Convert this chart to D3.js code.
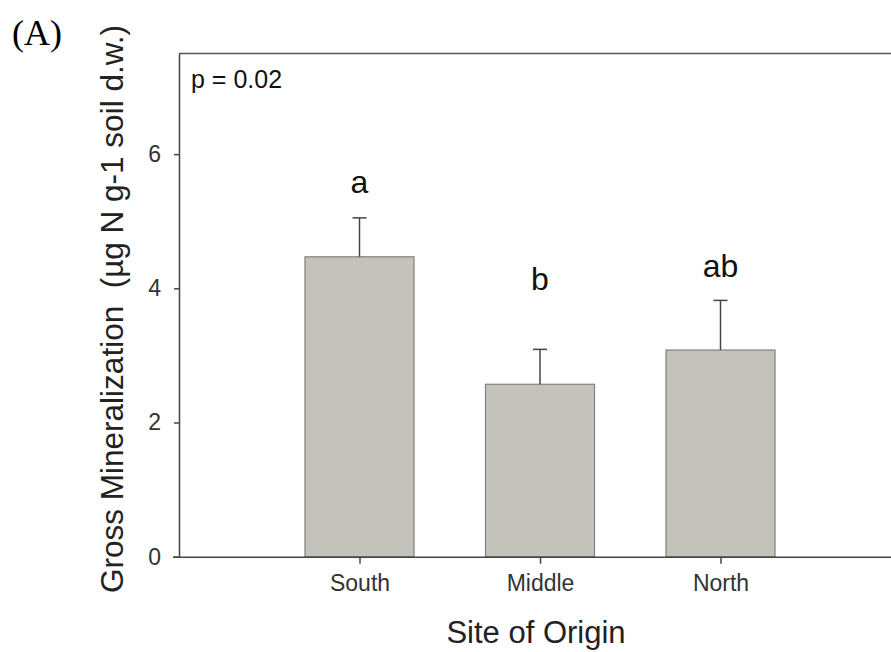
<!DOCTYPE html>
<html>
<head>
<meta charset="utf-8">
<script src="https://cdn.jsdelivr.net/npm/d3@7"></script>
<style>
  body { margin: 0; background: #fff; }
  .tick text { font-family: "Liberation Sans", Arial, sans-serif; fill: #333; }
</style>
</head>
<body>
<div id="chart"></div>
<script>
// chart values
var sites = ["South", "Middle", "North"];
var means = [4.47, 2.57, 3.08];
var errors = [0.58, 0.52, 0.74];
var letters = ["a", "b", "ab"];
var yTicks = [0, 2, 4, 6];

function drawChart() {
    var W = 891, H = 652;
    var left = 179, top = 53.5, bottom = 556.7, right = 901;

    var svg = d3.select("#chart").append("svg")
        .attr("width", W)
        .attr("height", H);

    svg.append("rect").attr("width", W).attr("height", H).attr("fill", "#fff");

    // categories sit at positions 1..3 on a 0..4 axis
    var x = d3.scaleLinear().domain([0, 4]).range([left, right]);
    var y = d3.scaleLinear().domain([0, 7.5]).range([bottom, top]);
    var barW = (x(1) - x(0)) * 0.604;

    // frame top line (right side runs off the picture)
    svg.append("line")
        .attr("x1", left).attr("x2", W + 10)
        .attr("y1", top).attr("y2", top)
        .attr("stroke", "#555").attr("stroke-width", 1.5);

    // bars
    svg.selectAll("rect.bar")
        .data(means)
        .enter().append("rect")
        .attr("class", "bar")
        .attr("x", (d, i) => x(i + 1) - barW / 2)
        .attr("y", d => y(d))
        .attr("width", barW)
        .attr("height", d => y(0) - y(d))
        .attr("fill", "#c3c3bb")
        .attr("stroke", "#808080")
        .attr("stroke-width", 1.2);

    // error bars (upper only)
    var err = svg.selectAll("g.err")
        .data(means)
        .enter().append("g")
        .attr("class", "err")
        .attr("stroke", "#444")
        .attr("stroke-width", 1.5);
    err.append("line")
        .attr("x1", (d, i) => x(i + 1)).attr("x2", (d, i) => x(i + 1))
        .attr("y1", d => y(d)).attr("y2", (d, i) => y(d + errors[i]));
    err.append("line")
        .attr("x1", (d, i) => x(i + 1) - 7).attr("x2", (d, i) => x(i + 1) + 7)
        .attr("y1", (d, i) => y(d + errors[i])).attr("y2", (d, i) => y(d + errors[i]));

    // significance letters
    var letterY = [193, 290, 277];
    svg.selectAll("text.letter")
        .data(letters)
        .enter().append("text")
        .attr("class", "letter")
        .attr("x", (d, i) => x(i + 1))
        .attr("y", (d, i) => letterY[i])
        .attr("text-anchor", "middle")
        .attr("font-family", "Liberation Sans, Arial, sans-serif")
        .attr("font-size", "32px")
        .attr("fill", "#111")
        .text(d => d);

    // y axis
    var yAxis = svg.append("g")
        .attr("transform", "translate(" + left + ",0)")
        .call(d3.axisLeft(y).tickValues(yTicks).tickSize(5).tickSizeOuter(0).tickPadding(13));
    yAxis.select(".domain").attr("stroke", "#444").attr("stroke-width", 1.5);
    yAxis.selectAll(".tick line").attr("stroke", "#444").attr("stroke-width", 1.5);
    yAxis.selectAll(".tick text").attr("font-size", "23px");

    // x axis
    var xAxis = svg.append("g")
        .attr("transform", "translate(0," + bottom + ")")
        .call(d3.axisBottom(x).tickValues([1, 2, 3]).tickFormat(d => sites[d - 1])
            .tickSize(7).tickSizeOuter(0).tickPadding(11));
    xAxis.select(".domain").attr("stroke", "#444").attr("stroke-width", 1.5)
        .attr("d", "M" + (left - 6) + ",0.5H" + (W + 10));
    xAxis.selectAll(".tick line").attr("stroke", "#444").attr("stroke-width", 1.5);
    xAxis.selectAll(".tick text").attr("font-size", "23px");

    // axis titles
    svg.append("text")
        .attr("x", x(2) - 4)
        .attr("y", 643)
        .attr("text-anchor", "middle")
        .attr("font-family", "Liberation Sans, Arial, sans-serif")
        .attr("font-size", "31px")
        .attr("fill", "#222")
        .text("Site of Origin");

    svg.append("text")
        .attr("transform", "translate(123,309) rotate(-90)")
        .attr("text-anchor", "middle")
        .attr("font-family", "Liberation Sans, Arial, sans-serif")
        .attr("font-size", "31.5px")
        .attr("fill", "#222")
        .attr("xml:space", "preserve")
        .text("Gross Mineralization  (\u00b5g N g-1 soil d.w.)");

    // p value
    svg.append("text")
        .attr("x", 191)
        .attr("y", 88)
        .attr("font-family", "Liberation Sans, Arial, sans-serif")
        .attr("font-size", "25px")
        .attr("fill", "#111")
        .text("p = 0.02");

    // panel label
    svg.append("text")
        .attr("x", 12)
        .attr("y", 45)
        .attr("font-family", "Liberation Serif, 'Times New Roman', serif")
        .attr("font-size", "36px")
        .attr("fill", "#000")
        .text("(A)");
}

window.onload = drawChart;
</script>
</body>
</html>
